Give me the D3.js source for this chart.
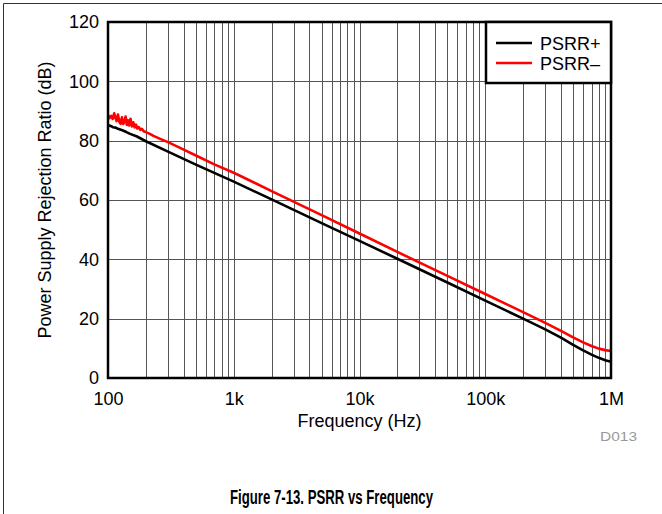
<!DOCTYPE html>
<html>
<head>
<meta charset="utf-8">
<title>PSRR vs Frequency</title>
<style type="text/css">
body { margin: 0; background: #fff; }
text { font-family: "Liberation Sans", Arial, sans-serif; }
.grid line { stroke: #555; stroke-width: 1; shape-rendering: crispEdges; }
.line { fill: none; stroke-width: 2.6; stroke-linejoin: round; }
</style>
</head>
<body>
<div id="chart"></div>

<script src="https://d3js.org/d3.v7.min.js"></script>
<script>

// PSRR+ (black)
var plusFreq = [100, 103, 106, 110, 115, 120, 130, 140, 150, 170, 200, 300, 500, 1000, 2000, 5000, 10000, 20000, 50000,
                100000, 200000, 300000, 400000, 500000, 600000, 700000, 800000, 900000, 1000000];
var plusDb   = [85.3, 85.0, 84.9, 84.5, 84.4, 84.0, 83.5, 82.9, 82.3, 81.4, 79.8, 76.3, 71.9, 66.2, 60.2, 52.2, 46.2, 40.2, 32.2,
                26.1, 20.0, 16.4, 13.6, 11.2, 9.3, 7.9, 6.8, 6.0, 5.5];

// PSRR- (red), noisy at the low end
var minusFreq = [100, 103, 106, 109, 112, 114, 117, 120, 123, 126, 129, 132, 135, 138, 141, 144, 147, 151,
                 155, 159, 163, 167, 171, 176, 181, 186, 192, 200, 215, 230, 260, 300, 400, 500, 700, 1000, 2000,
                 5000, 10000, 20000, 50000, 100000, 200000, 300000, 400000, 500000, 600000, 700000, 800000, 900000, 1000000];
var minusDb   = [88.6, 87.6, 88.4, 87.3, 89.2, 88.0, 86.6, 88.8, 86.4, 85.7, 87.9, 85.6, 86.4, 88.1, 85.3, 86.9, 85.1, 87.4,
                 84.8, 86.2, 84.5, 85.4, 84.1, 84.6, 83.6, 84.0, 83.2, 82.9, 82.3, 81.6, 80.6, 79.5, 77.0, 75.0, 72.0, 69.2, 63.0,
                 54.9, 48.7, 42.5, 34.4, 28.3, 22.2, 18.6, 15.9, 13.7, 12.0, 10.8, 9.9, 9.4, 9.1];

var xTicks = [100, 1000, 10000, 100000, 1000000];
var xTickLabels = ["100", "1k", "10k", "100k", "1M"];
var yTicks = [0, 20, 40, 60, 80, 100, 120];
var seriesNames = ["PSRR+", "PSRR\u2013"];
var seriesColors = ["#000", "#f00"];

var W = 662, H = 514;
var margin = {top: 22, left: 108, right: 51, bottom: 136};
var width = W - margin.left - margin.right,
    height = H - margin.top - margin.bottom;

var svg = d3.select("#chart").append("svg")
    .attr("width", W)
    .attr("height", H);

// outer frame (top and left only)
svg.append("path")
    .attr("d", "M3.5," + H + "V3.5H" + W)
    .attr("fill", "none")
    .attr("stroke", "#333")
    .attr("stroke-width", 1);

var g = svg.append("g")
    .attr("transform", "translate(" + margin.left + "," + margin.top + ")");

var x = d3.scaleLog().domain([100, 1e6]).range([0, width]);
var y = d3.scaleLinear().domain([0, 120]).range([height, 0]);

// grid lines
var minor = [];
for (var d = 100; d < 1e6; d *= 10)
  for (var k = 2; k <= 9; k++) minor.push(d * k);
minor = minor.concat(xTicks.slice(1, -1));

var grid = g.append("g").attr("class", "grid");
grid.selectAll(".v").data(minor).enter().append("line")
    .attr("x1", function(d) { return Math.round(x(d)) + 0.5; })
    .attr("x2", function(d) { return Math.round(x(d)) + 0.5; })
    .attr("y1", 0).attr("y2", height);
grid.selectAll(".h").data(yTicks.slice(1, -1)).enter().append("line")
    .attr("y1", function(d) { return Math.round(y(d)) + 0.5; })
    .attr("y2", function(d) { return Math.round(y(d)) + 0.5; })
    .attr("x1", 0).attr("x2", width);

// axes (labels only)
var xAxis = g.append("g")
    .attr("transform", "translate(0," + height + ")")
    .call(d3.axisBottom(x).tickValues(xTicks).tickSize(0).tickPadding(14)
        .tickFormat(function(d, i) { return xTickLabels[i]; }));
var yAxis = g.append("g")
    .call(d3.axisLeft(y).tickValues(yTicks).tickSize(0).tickPadding(9));
[xAxis, yAxis].forEach(function(a) {
  a.select(".domain").remove();
  a.selectAll("text").style("font-size", "18px").style("fill", "#000")
      .style("font-family", "'Liberation Sans', Arial, sans-serif");
});

// curves
var line = d3.line()
    .x(function(d) { return x(d[0]); })
    .y(function(d) { return y(d[1]); });

g.append("path")
    .datum(d3.zip(plusFreq, plusDb))
    .attr("class", "line")
    .attr("stroke", seriesColors[0])
    .attr("d", line);
g.append("path")
    .datum(d3.zip(minusFreq, minusDb))
    .attr("class", "line")
    .attr("stroke", seriesColors[1])
    .attr("d", line);

// plot border
g.append("rect")
    .attr("width", width).attr("height", height)
    .attr("fill", "none").attr("stroke", "#000").attr("stroke-width", 2.5);

// legend
var lg = g.append("g").attr("transform", "translate(" + (width - 125) + ",0)");
lg.append("rect")
    .attr("width", 125).attr("height", 61)
    .attr("fill", "#fff").attr("stroke", "#000").attr("stroke-width", 2.5);
seriesNames.forEach(function(name, i) {
  lg.append("line")
      .attr("x1", 10).attr("x2", 46)
      .attr("y1", 21 + i * 20).attr("y2", 21 + i * 20)
      .attr("stroke", seriesColors[i]).attr("stroke-width", 2.6);
  lg.append("text")
      .attr("x", 54).attr("y", 27.5 + i * 20)
      .style("font-size", "18px")
      .text(name);
});

// axis titles
svg.append("text")
    .attr("text-anchor", "middle")
    .attr("x", margin.left + width / 2)
    .attr("y", 427)
    .style("font-size", "18px")
    .text("Frequency (Hz)");

svg.append("text")
    .attr("text-anchor", "middle")
    .attr("transform", "translate(51," + (margin.top + height / 2) + ") rotate(-90)")
    .style("font-size", "18px")
    .text("Power Supply Rejection Ratio (dB)");

svg.append("text")
    .attr("x", 600).attr("y", 441)
    .attr("textLength", 37)
    .attr("lengthAdjust", "spacingAndGlyphs")
    .style("font-size", "13px")
    .style("fill", "#999")
    .text("D013");

svg.append("text")
    .attr("x", 230).attr("y", 504)
    .attr("textLength", 203)
    .attr("lengthAdjust", "spacingAndGlyphs")
    .style("font-size", "20px")
    .style("font-weight", "bold")
    .text("Figure 7-13. PSRR vs Frequency");

</script>
</body>
</html>
